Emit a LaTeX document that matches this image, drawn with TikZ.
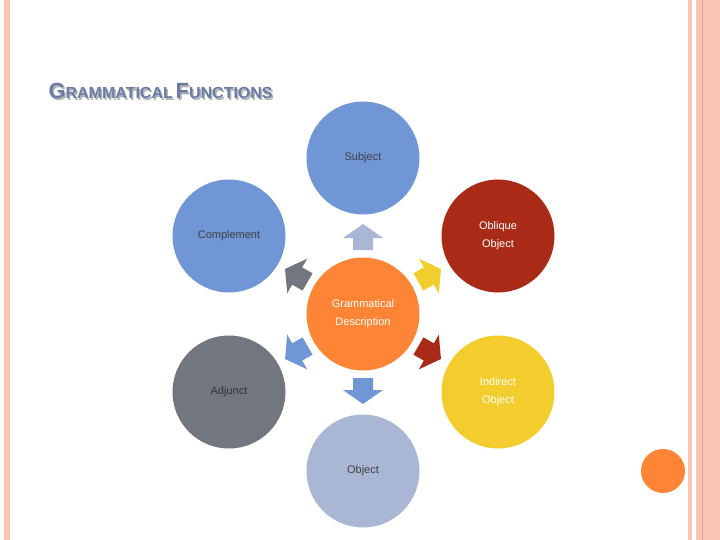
\documentclass[tikz,border=0pt]{standalone}
\usepackage{fontspec}
\setmainfont{Liberation Sans}
\begin{document}
\begin{tikzpicture}[x=1pt,y=-1pt,
  circ/.style={circle,minimum size=113pt,inner sep=0pt,align=center,font=\fontsize{11}{18}\selectfont},
  arr/.style={fill=#1}]
\definecolor{cblue}{HTML}{7096D6}
\definecolor{cred}{HTML}{A92A17}
\definecolor{corange}{HTML}{FD8535}
\definecolor{cyellow}{HTML}{F3CC2D}
\definecolor{cgray}{HTML}{72767F}
\definecolor{clblue}{HTML}{A9B7D5}
\definecolor{salmon}{HTML}{F9C6B4}
\definecolor{dsalmon}{HTML}{E8A088}
\definecolor{ctitle}{HTML}{6A7CA6}
\useasboundingbox (0,0) rectangle (720,540);
\fill[white] (0,0) rectangle (720,540);
% borders
\fill[salmon] (4,0) rectangle (10,540);
\fill[salmon] (688,0) rectangle (692,540);
\fill[salmon] (696,0) rectangle (720,540);
\draw[dsalmon,line width=0.8] (702,0) -- (702,540);
\fill[corange] (663,471) circle (22);
% title
\node[anchor=west,text=gray!60,font=\bfseries] at (46.5,92.5) {{\fontsize{22}{22}\selectfont G}{\fontsize{16}{16}\selectfont RAMMATICAL} {\fontsize{22}{22}\selectfont F}{\fontsize{16}{16}\selectfont UNCTIONS}};
\node[anchor=west,text=ctitle,font=\bfseries] (title) at (45,91) {{\fontsize{22}{22}\selectfont G}{\fontsize{16}{16}\selectfont RAMMATICAL} {\fontsize{22}{22}\selectfont F}{\fontsize{16}{16}\selectfont UNCTIONS}};
% circles
\node[circ,fill=corange,text=white] (c) at (363,314) {Grammatical\\Description};
\node[circ,fill=cblue,text=black!75] (subj) at (363,158) {Subject};
\node[circ,fill=cred,text=white] (obl) at (498,236) {Oblique\\Object};
\node[circ,fill=cblue,text=black!75] (comp) at (229,236) {Complement};
\node[circ,fill=cyellow,text=white] (ind) at (498,392) {Indirect\\Object};
\node[circ,fill=cgray,text=black!80] (adj) at (229,392) {Adjunct};
\node[circ,fill=clblue,text=black!75] (obj) at (363,471) {Object};
% arrows
\foreach \ang/\col in {90/cblue,30/cred,150/cblue,-30/cyellow,-150/cgray,-90/clblue}{
  \begin{scope}[shift={(c.center)},rotate=-\ang]
    \fill[\col] (64,-10) -- (76,-10) -- (76,-20) -- (90,0) -- (76,20) -- (76,10) -- (64,10) -- cycle;
  \end{scope}}
\end{tikzpicture}
\end{document}
